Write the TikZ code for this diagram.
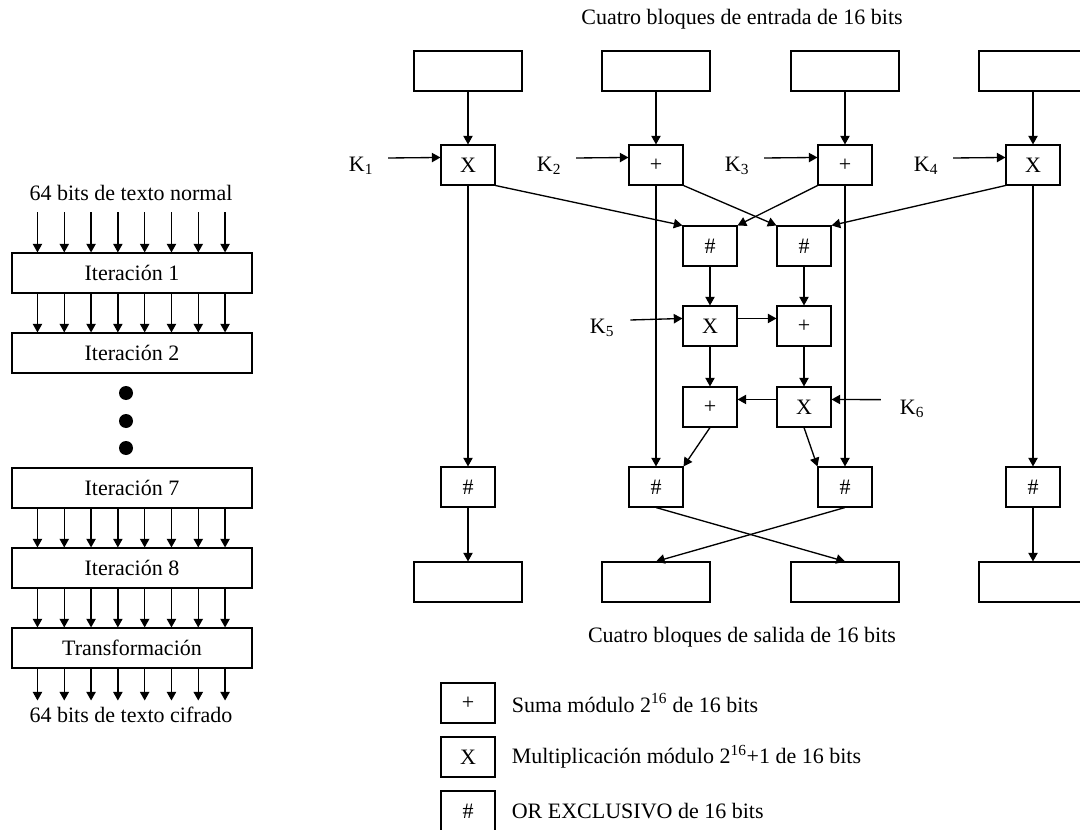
\documentclass[tikz,border=0pt]{standalone}
\usepackage{fontspec}
\setmainfont{Liberation Serif}
\usetikzlibrary{positioning, arrows.meta, calc}

\begin{document}
\begin{tikzpicture}[x=0.75pt, y=-0.75pt, font=\fontsize{16.5}{20}\selectfont,
    blk/.style={draw, line width=0.8pt, minimum width=81pt, minimum height=30pt, inner sep=0pt},
    op/.style={draw, line width=0.8pt, minimum width=40.5pt, minimum height=30pt, inner sep=0pt},
    iter/.style={draw, line width=0.8pt, minimum width=180pt, minimum height=30pt, inner sep=0pt},
    arr/.style={-{Triangle[length=6.5pt, width=7pt]}, line width=1pt},
    lbl/.style={inner sep=0pt}]
    \useasboundingbox (0,0) rectangle (1080,830);

    % Rounds on the left
    \node (tin) at (131,193) {64 bits de texto normal};
    \node[iter] (it1) at (132,273) {Iteración 1};
    \node[iter] (it2) at (132,353) {Iteración 2};
    \node[iter] (it7) at (132,488) {Iteración 7};
    \node[iter] (it8) at (132,568) {Iteración 8};
    \node[iter] (tr) at (132,648) {Transformación};
    \node (tout) at (131,715) {64 bits de texto cifrado};

    % Dots between rounds
    \foreach \y in {393,421,448} {
        \fill (126,\y) circle (5.25pt);
    }

    % Eight arrows between rounds
    \foreach \i in {0,...,7} {
        \pgfmathsetmacro{\dx}{26+26.8*\i}
        \draw[arr] ($(it1.north west)+(\dx,-40)$) -- ($(it1.north west)+(\dx,0)$);
        \draw[arr] ($(tr.south west)+(\dx,0)$) -- ($(tr.south west)+(\dx,32)$);
        \foreach \a/\b in {it1/it2, it7/it8, it8/tr} {
            \draw[arr] ($(\a.south west)+(\dx,0)$) -- ($(\b.north west)+(\dx,0)$);
        }
    }

    % Input and output blocks
    \node (tit) at (742,19) {Cuatro bloques de entrada de 16 bits};
    \foreach \n/\x in {1/468, 2/656, 3/845, 4/1033} {
        \node[blk] (in\n) at (\x,71) {};
        \node[blk] (out\n) at (\x,582) {};
    }
    \node (tsal) at (742,637) {Cuatro bloques de salida de 16 bits};

    % First row of operations
    \node[op] (a1) at (468,165) {X};
    \node[op] (a2) at (656,165) {+};
    \node[op] (a3) at (845,165) {+};
    \node[op] (a4) at (1033,165) {X};
    \node[lbl] (k1) at (361,166) {K\textsubscript{1}};
    \node[lbl] (k2) at (549,166) {K\textsubscript{2}};
    \node[lbl] (k3) at (737,166) {K\textsubscript{3}};
    \node[lbl] (k4) at (926,166) {K\textsubscript{4}};
    \foreach \n in {1,...,4} {
        \draw[arr] (in\n.south) -- (a\n.north);
        \draw[arr] ([xshift=11pt, yshift=6pt]k\n.east) -- ([yshift=-9.75pt]a\n.north west);
    }

    % Middle structure
    \node[op] (m1) at (710,246) {\#};
    \node[op] (m2) at (804,246) {\#};
    \node[op] (x5) at (710,326) {X};
    \node[op] (p5) at (804,326) {+};
    \node[op] (p6) at (710,407) {+};
    \node[op] (x6) at (804,407) {X};
    \node[lbl] (k5) at (602,328) {K\textsubscript{5}};
    \node[lbl] (k6) at (912,409) {K\textsubscript{6}};

    \draw[arr] (a1.south east) -- (m1.north west);
    \draw[arr] (a2.south east) -- (m2.north west);
    \draw[arr] (a3.south west) -- (m1.north east);
    \draw[arr] (a4.south west) -- (m2.north east);
    \draw[arr] (m1.south) -- (x5.north);
    \draw[arr] (m2.south) -- (p5.north);
    \draw[arr] (x5.south) -- (p6.north);
    \draw[arr] (p5.south) -- (x6.north);
    \draw[arr] ([xshift=12pt, yshift=6pt]k5.east) -- ([yshift=-9.75pt]x5.north west);
    \draw[arr] ([yshift=-9.75pt]x5.north east) -- ([yshift=-9.75pt]p5.north west);
    \draw[arr] ([xshift=-14pt, yshift=7pt]k6.west) -- ([yshift=-9.75pt]x6.north east);
    \draw[arr] ([yshift=-9.75pt]x6.north west) -- ([yshift=-9.75pt]p6.north east);

    % Last row of operations
    \foreach \n/\x in {1/468, 2/656, 3/845, 4/1033} {
        \node[op] (b\n) at (\x,487) {\#};
        \draw[arr] (a\n.south) -- (b\n.north);
    }
    \draw[arr] (p6.south) -- (b2.north east);
    \draw[arr] (x6.south) -- (b3.north west);
    \draw[arr] (b1.south) -- (out1.north);
    \draw[arr] (b4.south) -- (out4.north);
    \draw[arr] (b2.south) -- (out3.north);
    \draw[arr] (b3.south) -- (out2.north);

    % Legend
    \node[op] (lg1) at (468,703) {+};
    \node[op] (lg2) at (468,757) {X};
    \node[op] (lg3) at (468,811) {\#};
    \node[lbl, right=12pt of lg1] (lt1) {Suma módulo 2\textsuperscript{16} de 16 bits};
    \node[lbl, right=12pt of lg2] (lt2) {Multiplicación módulo 2\textsuperscript{16}+1 de 16 bits};
    \node[lbl, right=12pt of lg3] (lt3) {OR EXCLUSIVO de 16 bits};
\end{tikzpicture}
\end{document}
